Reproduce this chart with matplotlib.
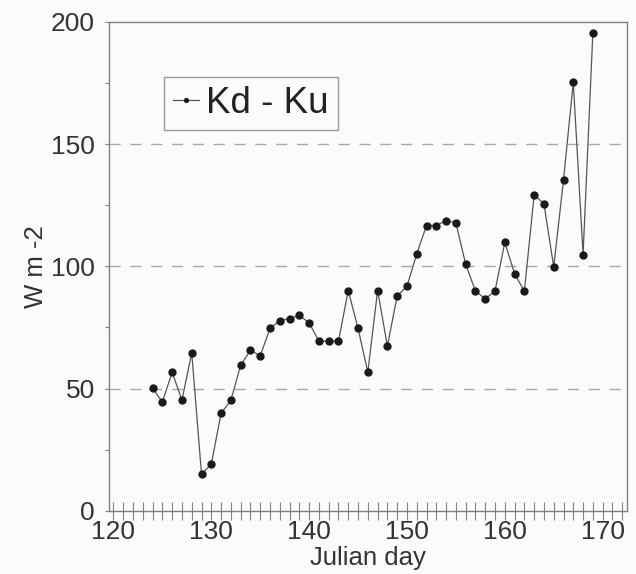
import numpy as np
import matplotlib
matplotlib.use("Agg")
from matplotlib import pyplot as plt
from matplotlib.ticker import MultipleLocator

plt.rcParams['font.family'] = ['Liberation Sans', 'DejaVu Sans']

# Kd - Ku, daily values
days = np.arange(124, 170)
kd_ku = [50.2, 44.5, 56.7, 45.3, 64.6, 15.1, 19.1, 39.9, 45.2, 59.5,
         65.7, 63.4, 74.6, 77.8, 78.6, 79.9, 76.9, 69.4, 69.4, 69.4,
         90.1, 74.6, 56.7, 90.1, 67.4, 87.9, 91.8, 105.1, 116.7, 116.7,
         118.7, 117.8, 100.9, 89.9, 86.7, 89.9, 109.8, 97.0, 89.8, 129.2,
         125.6, 99.8, 135.3, 175.3, 104.8, 195.5]

x_ticks = [120, 130, 140, 150, 160, 170]
y_ticks = [0, 50, 100, 150, 200]
grid_levels = [50, 100, 150]

txt = '#333333'
edge = '#808080'

fig = plt.figure(figsize=(6.36, 5.74), dpi=100)
fig.patch.set_facecolor('#fbfbf9')
ax = fig.add_axes([0.171, 0.110, 0.815, 0.852])
ax.set_facecolor('#fbfbf9')

for g in grid_levels:
    ax.axhline(g, color='#a8a8a8', lw=1.0, dashes=(8, 7), zorder=1)

ax.plot(days, kd_ku, color='#555555', lw=0.9, marker='o', ms=5.0,
        mfc='#1a1a1a', mec='#1a1a1a', label='Kd - Ku', zorder=3)

ax.set_xlim(119.52, 172.5)
ax.set_ylim(0, 200)
ax.set_xticks(x_ticks)
ax.set_yticks(y_ticks)
ax.xaxis.set_minor_locator(MultipleLocator(1))
ax.yaxis.set_minor_locator(MultipleLocator(25))

ax.tick_params(axis='x', which='both', direction='inout', length=13, width=0.8,
               color=edge, labelsize=19, labelcolor=txt, pad=0)
ax.tick_params(axis='y', which='both', direction='out', length=3, width=0.8,
               color=edge, labelsize=19, labelcolor=txt, pad=7)

for s in ax.spines.values():
    s.set_color(edge)
    s.set_linewidth(1.0)

ax.set_xlabel('Julian day', fontsize=18.5, color=txt, labelpad=1.5)
ax.set_ylabel('W m -2', fontsize=18.5, color=txt, labelpad=2)

leg = ax.legend(loc='upper left', bbox_to_anchor=(0.106, 0.8875), borderaxespad=0,
                fontsize=26.5, frameon=True, fancybox=False, edgecolor=edge,
                handlelength=0.7, handletextpad=0.2, borderpad=0.25,
                markerscale=0.55)
leg.get_frame().set_linewidth(1.0)
leg.get_frame().set_facecolor('#fbfbf9')
for t in leg.get_texts():
    t.set_color('#222222')

plt.savefig('out.png', dpi=100, facecolor=fig.get_facecolor())
